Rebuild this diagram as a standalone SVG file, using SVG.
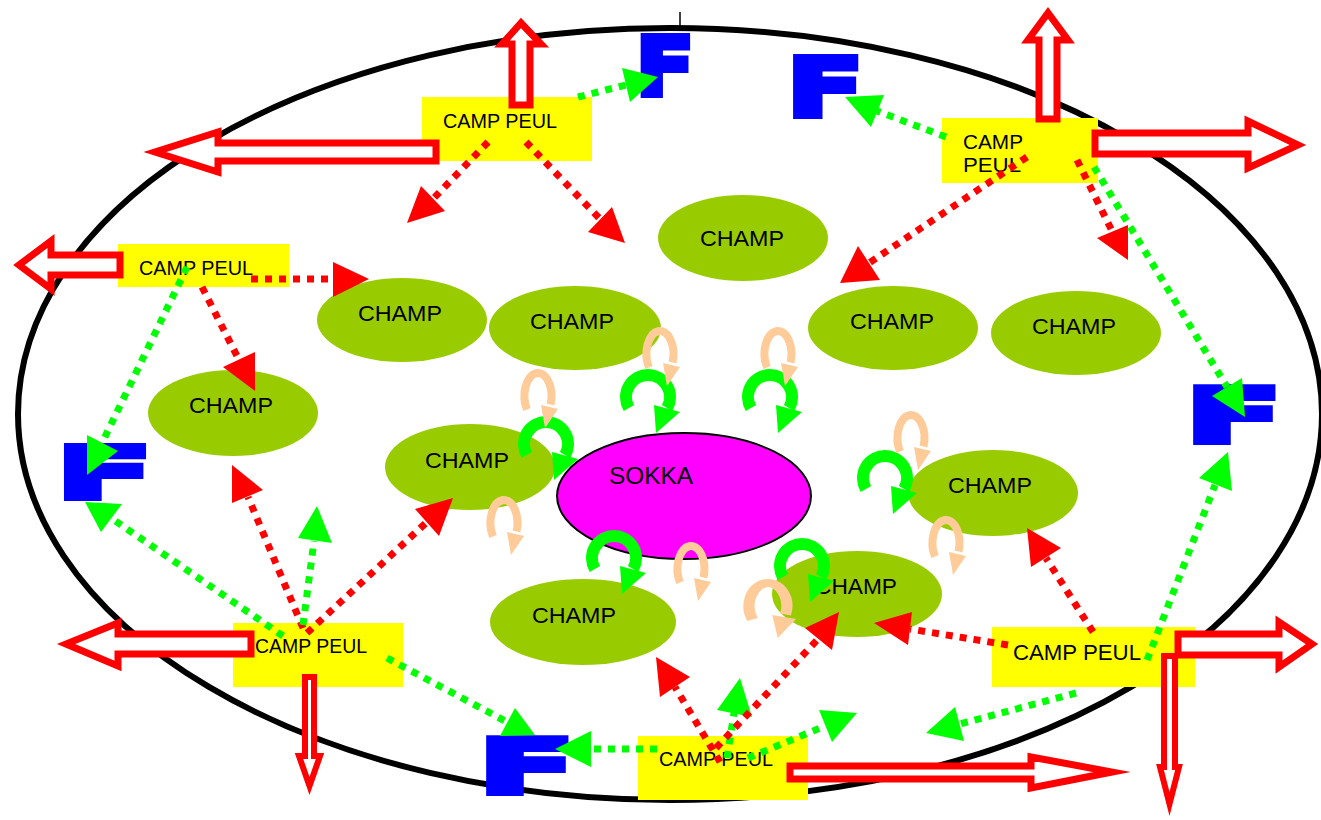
<svg xmlns="http://www.w3.org/2000/svg" xmlns:xlink="http://www.w3.org/1999/xlink" width="1321" height="820" viewBox="0 0 1321 820">
<style>
.camp{fill:#FFFF00}
.lbl{font-family:"Liberation Sans",Arial,sans-serif;fill:#000}
.champ{fill:#99CC00}
.blk{fill:#fff;stroke:#FF0000;stroke-width:7;stroke-linejoin:miter;stroke-miterlimit:10}
.thin{stroke-width:6}
.rd{stroke:#FF0000;stroke-width:7;stroke-dasharray:7 7;fill:none}
.gd{stroke:#00FF00;stroke-width:7;stroke-dasharray:7 7;fill:none}
.rh{fill:#FF0000}
.gh{fill:#00FF00}
.F{font-family:"DejaVu Sans",sans-serif;font-weight:bold;fill:#0000FF;stroke:#0000FF;stroke-width:6;stroke-linejoin:miter}
</style>
<defs>
<g id="garr">
<path d="M -19.1 11 A 22 22 0 1 1 19.1 11" fill="none" stroke="#00FF00" stroke-width="12"/>
<polygon points="6,8 32,15 8,36" fill="#00FF00"/>
</g>
<g id="parr">
<path d="M -11 13.5 A 13.5 23 0 1 1 12.5 8.5" fill="none" stroke="#FFCC99" stroke-width="8"/>
<polygon points="3,9 20,13 7,32" fill="#FFCC99"/>
</g>
</defs>
<rect width="1321" height="820" fill="#fff"/>
<g id="border">
<ellipse cx="670" cy="414" rx="652" ry="386" fill="none" stroke="#000" stroke-width="6"/>
<line x1="680" y1="12" x2="680" y2="27" stroke="#000" stroke-width="1.5"/>
</g>
<g id="champ-1"><ellipse class="champ" cx="743" cy="238" rx="85" ry="43"/><text class="lbl" x="700" y="246" font-size="22" textLength="84" lengthAdjust="spacingAndGlyphs">CHAMP</text></g>
<g id="champ-2"><ellipse class="champ" cx="402" cy="320" rx="85" ry="42"/><text class="lbl" x="358" y="321" font-size="22" textLength="84" lengthAdjust="spacingAndGlyphs">CHAMP</text></g>
<g id="champ-3"><ellipse class="champ" cx="575" cy="328" rx="86" ry="42"/><text class="lbl" x="530" y="329" font-size="22" textLength="84" lengthAdjust="spacingAndGlyphs">CHAMP</text></g>
<g id="champ-4"><ellipse class="champ" cx="893" cy="328" rx="85" ry="42"/><text class="lbl" x="850" y="329" font-size="22" textLength="84" lengthAdjust="spacingAndGlyphs">CHAMP</text></g>
<g id="champ-5"><ellipse class="champ" cx="1076" cy="333" rx="85" ry="42"/><text class="lbl" x="1032" y="334" font-size="22" textLength="84" lengthAdjust="spacingAndGlyphs">CHAMP</text></g>
<g id="champ-6"><ellipse class="champ" cx="233" cy="413" rx="85" ry="43"/><text class="lbl" x="189" y="413" font-size="22" textLength="84" lengthAdjust="spacingAndGlyphs">CHAMP</text></g>
<g id="champ-7"><ellipse class="champ" cx="470" cy="467" rx="85" ry="43"/><text class="lbl" x="425" y="468" font-size="22" textLength="84" lengthAdjust="spacingAndGlyphs">CHAMP</text></g>
<g id="champ-8"><ellipse class="champ" cx="993" cy="493" rx="85" ry="43"/><text class="lbl" x="948" y="493" font-size="22" textLength="84" lengthAdjust="spacingAndGlyphs">CHAMP</text></g>
<g id="champ-9"><ellipse class="champ" cx="583" cy="622" rx="93" ry="43"/><text class="lbl" x="532" y="623" font-size="22" textLength="84" lengthAdjust="spacingAndGlyphs">CHAMP</text></g>
<g id="champ-10"><ellipse class="champ" cx="857" cy="594" rx="85" ry="43"/><text class="lbl" x="815" y="594" font-size="22" textLength="82" lengthAdjust="spacingAndGlyphs">CHAMP</text></g>
<g id="sokka"><ellipse cx="684" cy="496" rx="127" ry="63" fill="#FF00FF" stroke="#000" stroke-width="2"/><text class="lbl" x="609" y="484" font-size="24" textLength="84" lengthAdjust="spacingAndGlyphs">SOKKA</text></g>
<g id="camp-tl"><rect class="camp" x="422" y="97" width="170" height="64"/><text class="lbl" x="443" y="128" font-size="21" textLength="114" lengthAdjust="spacingAndGlyphs">CAMP PEUL</text></g>
<g id="camp-tr"><rect class="camp" x="942" y="118" width="156" height="65"/><text class="lbl" x="963" y="149" font-size="21" textLength="60" lengthAdjust="spacingAndGlyphs">CAMP</text><text class="lbl" x="963" y="172" font-size="21" textLength="58" lengthAdjust="spacingAndGlyphs">PEUL</text></g>
<g id="camp-l"><rect class="camp" x="118" y="244" width="171" height="43"/><text class="lbl" x="139" y="275" font-size="21" textLength="114" lengthAdjust="spacingAndGlyphs">CAMP PEUL</text></g>
<g id="camp-bl"><rect class="camp" x="233" y="623" width="170" height="64"/><text class="lbl" x="255" y="653" font-size="21" textLength="112" lengthAdjust="spacingAndGlyphs">CAMP PEUL</text></g>
<g id="camp-bm"><rect class="camp" x="638" y="736" width="170" height="64"/><text class="lbl" x="659" y="766" font-size="21" textLength="114" lengthAdjust="spacingAndGlyphs">CAMP PEUL</text></g>
<g id="camp-br"><rect class="camp" x="992" y="627" width="203" height="60"/><text class="lbl" x="1013" y="660" font-size="22" textLength="128" lengthAdjust="spacingAndGlyphs">CAMP PEUL</text></g>
<g id="exits">
<path class="blk" d="M512,105 L512,44 L502,44 L521,23 L541,44 L530,44 L530,105 Z"/>
<path class="blk" d="M436,143 L218,143 L218,132 L155,152 L218,172 L218,161 L436,161 Z"/>
<path class="blk" d="M1039,119 L1039,40 L1028,40 L1048,13 L1068,40 L1057,40 L1057,119 Z"/>
<path class="blk" d="M1095,133 L1248,133 L1248,121 L1298,145 L1248,168 L1248,154 L1095,154 Z"/>
<path class="blk" d="M120,255 L51,255 L51,241 L19,265 L51,289 L51,275 L120,275 Z"/>
<path class="blk" d="M251,634 L118,634 L118,623 L66,644 L118,666 L118,654 L251,654 Z"/>
<path class="blk thin" d="M305,677 L305,756 L299,756 L309.5,786 L320,756 L314,756 L314,677 Z"/>
<path class="blk" d="M790,766 L1031,766 L1031,757 L1112,772 L1031,788 L1031,779 L790,779 Z"/>
<path class="blk thin" d="M1164,656 L1164,767 L1160,767 L1169.5,804 L1179,767 L1175,767 L1175,656 Z"/>
<path class="blk" d="M1178,634 L1279,634 L1279,622 L1312,644 L1279,667 L1279,655 L1178,655 Z"/>
</g>
<g id="f-1"><text class="F" font-size="81" transform="translate(636,95) scale(1.05,1)">F</text></g>
<g id="f-2"><text class="F" font-size="80" transform="translate(787,116) scale(1.4,1)">F</text></g>
<g id="f-3"><text class="F" font-size="72" transform="translate(57,498) scale(1.93,1)">F</text></g>
<g id="f-4"><text class="F" font-size="74" transform="translate(1186,442) scale(1.89,1)">F</text></g>
<g id="f-5"><text class="F" font-size="74" transform="translate(479,793) scale(1.89,1)">F</text></g>
<g id="cycles">
<use href="#garr" xlink:href="#garr" transform="translate(648,397)"/>
<use href="#garr" xlink:href="#garr" transform="translate(770,397)"/>
<use href="#garr" xlink:href="#garr" transform="translate(546,444)"/>
<use href="#garr" xlink:href="#garr" transform="translate(614,558)"/>
<use href="#garr" xlink:href="#garr" transform="translate(802,566)"/>
<use href="#garr" xlink:href="#garr" transform="translate(885,478)"/>
<use href="#parr" xlink:href="#parr" transform="translate(660,354)"/>
<use href="#parr" xlink:href="#parr" transform="translate(778,354)"/>
<use href="#parr" xlink:href="#parr" transform="translate(538,396)"/>
<use href="#parr" xlink:href="#parr" transform="translate(504,523)"/>
<use href="#parr" xlink:href="#parr" transform="translate(691,569)"/>
<use href="#parr" xlink:href="#parr" transform="translate(768,606) scale(1.4,1)"/>
<use href="#parr" xlink:href="#parr" transform="translate(911,438)"/>
<use href="#parr" xlink:href="#parr" transform="translate(946,543)"/>
</g>
<g id="connectors">
<g><line class="rd" x1="488" y1="142" x2="433" y2="199"/><polygon class="rh" points="407,223 445,211 421,186"/></g>
<g><line class="rd" x1="526" y1="142" x2="600" y2="219"/><polygon class="rh" points="625,243 588,232 612,207"/></g>
<g><line class="gd" x1="578" y1="97" x2="626" y2="85"/><polygon class="gh" points="658,77 630,102 622,68"/></g>
<g><line class="gd" x1="946" y1="137" x2="877" y2="111"/><polygon class="gh" points="845,97 884,95 871,127"/></g>
<g><line class="rd" x1="1027" y1="157" x2="869" y2="263"/><polygon class="rh" points="840,283 858,246 880,280"/></g>
<g><line class="rd" x1="1077" y1="160" x2="1112" y2="231"/><polygon class="rh" points="1128,260 1097,238 1128,225"/></g>
<g><line class="gd" x1="1094" y1="167" x2="1227" y2="387"/><polygon class="gh" points="1245,417 1212,396 1242,378"/></g>
<g><line class="rd" x1="251" y1="279" x2="333" y2="279"/><polygon class="rh" points="333,262 369,279 333,297"/></g>
<g><line class="rd" x1="202" y1="287" x2="239" y2="360"/><polygon class="rh" points="255,391 223,367 255,352"/></g>
<g><line class="gd" x1="187" y1="267" x2="102" y2="443"/><polygon class="gh" points="87,475 87,435 118,451"/></g>
<g><line class="gd" x1="283" y1="636" x2="111" y2="518"/><polygon class="gh" points="85,502 122,504 101,532"/></g>
<g><line class="rd" x1="303" y1="628" x2="248" y2="497"/><polygon class="rh" points="232,465 263,490 232,503"/></g>
<g><line class="gd" x1="303" y1="625" x2="314" y2="541"/><polygon class="gh" points="317,506 332,543 298,538"/></g>
<g><line class="rd" x1="307" y1="633" x2="427" y2="522"/><polygon class="rh" points="453,498 415,509 439,536"/></g>
<g><line class="gd" x1="387" y1="658" x2="507" y2="722"/><polygon class="gh" points="535,735 515,708 500,736"/></g>
<g><line class="gd" x1="657" y1="749" x2="591" y2="749"/><polygon class="gh" points="555,749 591,731 591,767"/></g>
<g><line class="rd" x1="720" y1="762" x2="675" y2="687"/><polygon class="rh" points="656,657 690,677 660,697"/></g>
<g><line class="gd" x1="727" y1="758" x2="734" y2="713"/><polygon class="gh" points="740,678 752,717 717,710"/></g>
<g><line class="rd" x1="716" y1="748" x2="818" y2="639"/><polygon class="rh" points="839,612 832,650 805,628"/></g>
<g><line class="gd" x1="748" y1="758" x2="825" y2="726"/><polygon class="gh" points="857,713 819,710 832,742"/></g>
<g><line class="rd" x1="1008" y1="645" x2="910" y2="629"/><polygon class="rh" points="874,623 912,612 908,645"/></g>
<g><line class="rd" x1="1093" y1="632" x2="1046" y2="558"/><polygon class="rh" points="1027,528 1061,548 1031,567"/></g>
<g><line class="gd" x1="1147" y1="660" x2="1215" y2="485"/><polygon class="gh" points="1228,452 1232,491 1199,478"/></g>
<g><line class="gd" x1="1076" y1="693" x2="960" y2="724"/><polygon class="gh" points="926,733 955,707 964,741"/></g>
</g>
</svg>
